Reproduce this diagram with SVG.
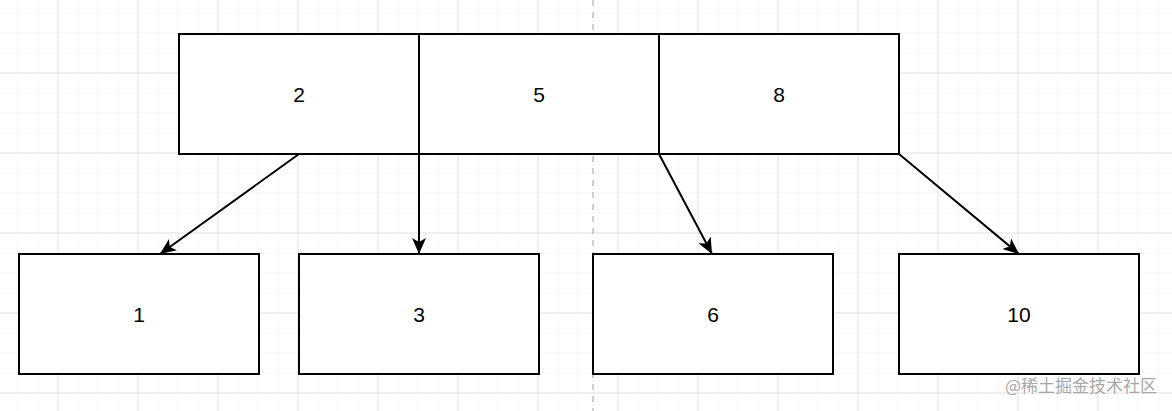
<svg xmlns="http://www.w3.org/2000/svg" width="1172" height="411" viewBox="0 0 1172 411">
<defs>
<pattern id="minor" width="20" height="20" patternUnits="userSpaceOnUse" x="-1.5" y="-6.5">
<path d="M20 0V20M0 20H20" fill="none" stroke="#ececec" stroke-width="1"/>
</pattern>
<pattern id="major" width="80" height="80" patternUnits="userSpaceOnUse" x="-21.5" y="-6.5">
<path d="M80 0V80M0 80H80" fill="none" stroke="#cfcfcf" stroke-width="1"/>
</pattern>
<marker id="arr" viewBox="0 0 16 14" refX="16" refY="7" markerWidth="16" markerHeight="14" markerUnits="userSpaceOnUse" orient="auto">
<path d="M0 0L16 7L0 14L4 7Z" fill="#000"/>
</marker>
</defs>
<style>
.box{fill:#fff;stroke:#000;stroke-width:2}
.lbl{font-family:"Liberation Sans",Arial,sans-serif;font-size:21px;fill:#000;text-anchor:middle;dominant-baseline:central}
.edge{fill:none;stroke:#000;stroke-width:2;marker-end:url(#arr)}
</style>
<rect width="1172" height="411" fill="#fff"/>
<rect width="1172" height="411" fill="url(#minor)"/>
<rect width="1172" height="411" fill="url(#major)"/>
<line x1="593" y1="0" x2="593" y2="411" stroke="#c0c0c0" stroke-width="1.5" stroke-dasharray="6 6"/>
<g id="n2"><rect class="box" x="179" y="34" width="240" height="120"/><text class="lbl" x="299" y="94">2</text></g>
<g id="n5"><rect class="box" x="419" y="34" width="240" height="120"/><text class="lbl" x="539" y="94">5</text></g>
<g id="n8"><rect class="box" x="659" y="34" width="240" height="120"/><text class="lbl" x="779" y="94">8</text></g>
<g id="n1"><rect class="box" x="19" y="254" width="240" height="120"/><text class="lbl" x="139" y="314">1</text></g>
<g id="n3"><rect class="box" x="299" y="254" width="240" height="120"/><text class="lbl" x="419" y="314">3</text></g>
<g id="n6"><rect class="box" x="593" y="254" width="240" height="120"/><text class="lbl" x="713" y="314">6</text></g>
<g id="n10"><rect class="box" x="899" y="254" width="240" height="120"/><text class="lbl" x="1019" y="314">10</text></g>
<g id="edges">
<path class="edge" d="M299 154L160 254"/>
<path class="edge" d="M419 154L419 254"/>
<path class="edge" d="M659 154L712 254"/>
<path class="edge" d="M899 154L1019 254"/>
</g>
<text x="1157" y="392" font-family="'Noto Sans CJK SC',sans-serif" font-size="17" fill="#a8a8a8" text-anchor="end">@稀土掘金技术社区</text>
</svg>
